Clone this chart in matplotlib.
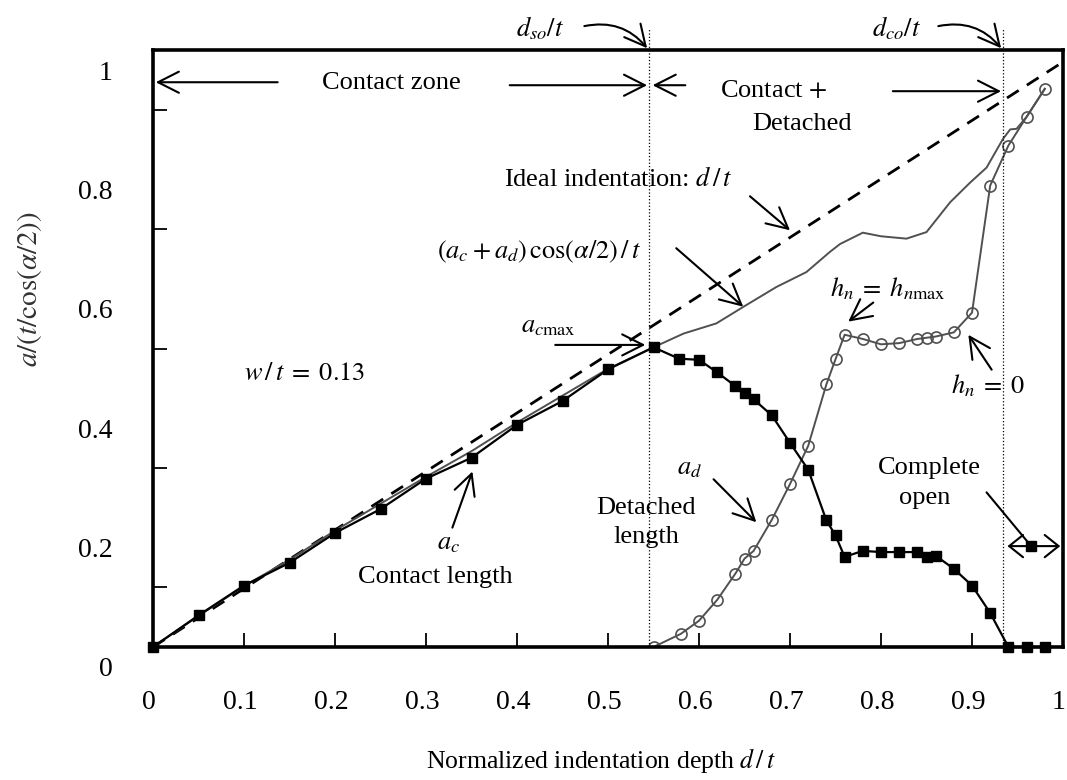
import numpy as np
import matplotlib
matplotlib.use('Agg')
import matplotlib.pyplot as plt
from matplotlib.transforms import ScaledTranslation

plt.rcParams['font.family'] = 'serif'
plt.rcParams['font.serif'] = ['Liberation Serif', 'DejaVu Serif']
plt.rcParams['mathtext.fontset'] = 'stix'

#%% data

# contact length a_c (filled squares)
ac_x = [0, 0.05, 0.10, 0.15, 0.20, 0.25, 0.30, 0.35, 0.40, 0.45, 0.50, 0.55,
        0.578, 0.60, 0.62, 0.64, 0.65, 0.66, 0.68, 0.70, 0.72, 0.74, 0.75, 0.76,
        0.78, 0.80, 0.82, 0.84, 0.85, 0.86, 0.88, 0.90, 0.92, 0.94, 0.96, 0.98]
ac_y = [0, 0.053, 0.103, 0.141, 0.191, 0.231, 0.282, 0.317, 0.372, 0.412, 0.465, 0.502,
        0.483, 0.481, 0.460, 0.437, 0.426, 0.415, 0.388, 0.342, 0.297, 0.212, 0.187, 0.151,
        0.161, 0.159, 0.159, 0.159, 0.151, 0.153, 0.131, 0.103, 0.057, 0.0, 0.0, 0.0]

# detached length a_d (open circles)
ad_x = [0.55, 0.58, 0.60, 0.62, 0.64, 0.65, 0.66, 0.68, 0.70, 0.72, 0.74, 0.75, 0.76,
        0.78, 0.80, 0.82, 0.84, 0.85, 0.86, 0.88, 0.90, 0.92, 0.94, 0.96, 0.98]
ad_y = [0, 0.022, 0.044, 0.079, 0.123, 0.148, 0.161, 0.213, 0.273, 0.337, 0.440, 0.482, 0.523,
        0.516, 0.507, 0.509, 0.516, 0.518, 0.520, 0.527, 0.560, 0.773, 0.840, 0.888, 0.935]

# (a_c + a_d) cos(alpha/2) / t  (thin grey line)
sum_x = [0, 0.05, 0.10, 0.15, 0.20, 0.25, 0.30, 0.35, 0.40, 0.45, 0.50, 0.55, 0.583, 0.619,
         0.649, 0.685, 0.718, 0.744, 0.755, 0.78, 0.80, 0.828, 0.85, 0.876, 0.898, 0.916,
         0.934, 0.942, 0.949, 0.96, 0.98]
sum_y = [0, 0.052, 0.102, 0.146, 0.195, 0.240, 0.285, 0.328, 0.376, 0.421, 0.466, 0.502, 0.525,
         0.542, 0.570, 0.603, 0.628, 0.662, 0.675, 0.694, 0.688, 0.684, 0.695, 0.745, 0.778,
         0.803, 0.851, 0.867, 0.868, 0.888, 0.935]

# ideal indentation d/t
ideal_x = [0, 1]
ideal_y = [0, 0.98]

d_so = 0.5455
d_co = 0.934

xticks = [0, 0.1, 0.2, 0.3, 0.4, 0.5, 0.6, 0.7, 0.8, 0.9, 1]
xticklabels = ['0', '0.1', '0.2', '0.3', '0.4', '0.5', '0.6', '0.7', '0.8', '0.9', '1']
yticks = [0, 0.2, 0.4, 0.6, 0.8, 1]
yticklabels = ['0', '0.2', '0.4', '0.6', '0.8', '1']

#%% figure

fig = plt.figure(figsize=(10.67, 7.8), dpi=100)
ax = fig.add_axes([153/1067, 133/780, 910/1067, 597/780])
grey = '#505050'

ax.plot(ideal_x, ideal_y, color='k', lw=2, dashes=(5, 3.5))
ax.plot(sum_x, sum_y, color=grey, lw=1.4)
ax.plot(ad_x, ad_y, color=grey, lw=1.4, marker='o', ms=8, mfc='none', mec=grey, mew=1.2)
ax.plot(ac_x, ac_y, color='k', lw=1.6, marker='s', ms=7, mfc='k', mec='k', clip_on=False, zorder=5)

for xd in [d_so, d_co]:
    ax.plot([xd, xd], [0, 1.035], color='k', lw=0.9, ls=':', clip_on=False)

ax.set_xlim(0, 1)
ax.set_ylim(0, 1)
for s in ax.spines.values():
    s.set_linewidth(2.6)

ax.set_xticks(xticks)
ax.set_xticklabels(xticklabels)
ax.set_yticks(np.arange(0.1, 0.95, 0.1), minor=True)
ax.set_yticks(yticks)
ax.set_yticklabels(yticklabels)
ax.tick_params(axis='x', direction='in', length=10, width=1.3, pad=31, labelsize=20)
ax.tick_params(axis='y', which='major', direction='in', length=0, pad=29, labelsize=20)
ax.tick_params(axis='y', which='minor', direction='in', length=10, width=1.3)
# the tick labels sit a little off their values in the original
for lab in ax.get_yticklabels():
    lab.set_transform(lab.get_transform() + ScaledTranslation(0, -0.2, fig.dpi_scale_trans))
for lab in ax.get_xticklabels():
    lab.set_transform(lab.get_transform() + ScaledTranslation(-0.04, 0, fig.dpi_scale_trans))

ax.set_xlabel('Normalized indentation depth $d\,/\,t$', fontsize=18.5)
ax.xaxis.set_label_coords(0.492, -0.165)
ax.set_ylabel(r'$a/(t/\cos(\alpha/2))$', fontsize=21, color='#333333')
ax.yaxis.set_label_coords(-0.12, 0.6)

#%% annotations
fs = 19
arr = dict(arrowstyle='->,head_length=0.75,head_width=0.38', lw=1.5, color='k',
           shrinkA=0, shrinkB=0, mutation_scale=20)
curved = dict(arr, connectionstyle='arc3,rad=-0.3')

ax.text(0.262, 0.944, 'Contact zone', fontsize=fs, ha='center', va='center')
ax.annotate('', xy=(0.003, 0.946), xytext=(0.137, 0.946), arrowprops=arr)
ax.annotate('', xy=(0.543, 0.941), xytext=(0.392, 0.941), arrowprops=arr)

ax.text(0.682, 0.932, r'Contact $+$', fontsize=fs, ha='center', va='center')
ax.text(0.713, 0.876, 'Detached', fontsize=fs, ha='center', va='center')
ax.annotate('', xy=(0.549, 0.941), xytext=(0.585, 0.941), arrowprops=arr)
ax.annotate('', xy=(0.932, 0.931), xytext=(0.813, 0.931), arrowprops=arr)

ax.text(0.425, 1.037, '$d_{so}/t$', fontsize=fs, ha='center', va='center', clip_on=False)
ax.annotate('', xy=(0.543, 1.003), xytext=(0.474, 1.04), arrowprops=curved,
            annotation_clip=False)
ax.text(0.817, 1.037, '$d_{co}/t$', fontsize=fs, ha='center', va='center', clip_on=False)
ax.annotate('', xy=(0.932, 1.003), xytext=(0.863, 1.04), arrowprops=curved,
            annotation_clip=False)

ax.text(0.511, 0.784, r'Ideal indentation: $d\,/\,t$', fontsize=fs, ha='center', va='center')
ax.annotate('', xy=(0.700, 0.698), xytext=(0.656, 0.755), arrowprops=arr)

ax.text(0.424, 0.662, r'$(a_c + a_d)\,\cos(\alpha/2)\,/\,t$', fontsize=fs, ha='center', va='center')
ax.annotate('', xy=(0.6486, 0.57), xytext=(0.575, 0.668), arrowprops=arr)

ax.text(0.434, 0.536, r'$a_{c\mathrm{max}}$', fontsize=fs, ha='center', va='center')
ax.annotate('', xy=(0.541, 0.506), xytext=(0.442, 0.506), arrowprops=arr)

ax.text(0.167, 0.457, r'$w\,/\,t\;=\;0.13$', fontsize=fs, ha='center', va='center')

ax.text(0.325, 0.173, '$a_c$', fontsize=fs, ha='center', va='center')
ax.text(0.31, 0.117, 'Contact length', fontsize=fs, ha='center', va='center')
ax.annotate('', xy=(0.351, 0.294), xytext=(0.329, 0.2), arrowprops=arr)

ax.text(0.542, 0.233, 'Detached', fontsize=fs, ha='center', va='center')
ax.text(0.542, 0.184, 'length', fontsize=fs, ha='center', va='center')
ax.text(0.59, 0.298, '$a_d$', fontsize=fs, ha='center', va='center')
ax.annotate('', xy=(0.663, 0.209), xytext=(0.616, 0.281), arrowprops=arr)

ax.text(0.853, 0.300, 'Complete', fontsize=fs, ha='center', va='center')
ax.text(0.848, 0.250, 'open', fontsize=fs, ha='center', va='center')
ax.annotate('', xy=(0.965, 0.169), xytext=(0.916, 0.259),
            arrowprops=dict(arrowstyle='-', lw=1.5, color='k', shrinkA=0, shrinkB=0))
ax.annotate('', xy=(0.997, 0.169), xytext=(0.939, 0.169),
            arrowprops=dict(arr, arrowstyle='<->,head_length=0.5,head_width=0.4'))
ax.plot([0.965], [0.169], marker='s', ms=7, color='k')

ax.text(0.808, 0.600, r'$h_n\;=\;h_{n\mathrm{max}}$', fontsize=fs, ha='center', va='center')
ax.annotate('', xy=(0.764, 0.545), xytext=(0.7915, 0.577), arrowprops=arr)

ax.text(0.918, 0.437, r'$h_n\;=\;0$', fontsize=fs, ha='center', va='center')
ax.annotate('', xy=(0.896, 0.523), xytext=(0.9216, 0.4645), arrowprops=arr)

fig.savefig('out.png', dpi=100)
